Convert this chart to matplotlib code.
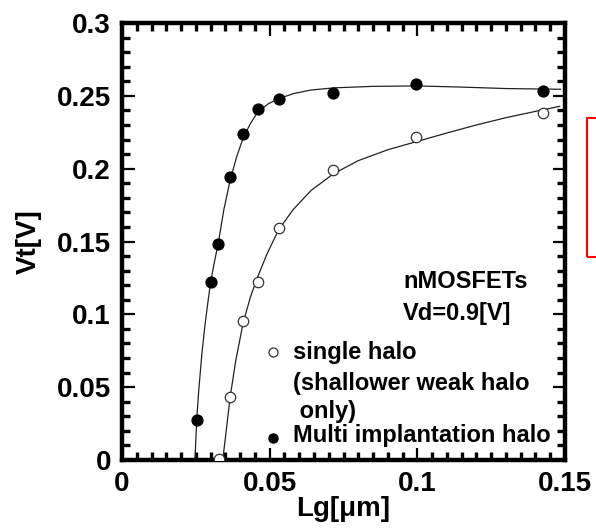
import matplotlib
matplotlib.use("Agg")
import matplotlib.pyplot as plt
from matplotlib.patches import Rectangle
from matplotlib.ticker import MultipleLocator

plt.rcParams['font.family'] = ['Liberation Sans', 'DejaVu Sans']

# measured data (Lg in um, Vt in V)
multi_lg = [0.0253, 0.0300, 0.0326, 0.0366, 0.0409, 0.0462, 0.0531, 0.0716, 0.0996, 0.1427]
multi_vt = [0.0275, 0.122, 0.148, 0.194, 0.2235, 0.241, 0.2476, 0.2517, 0.2578, 0.2535]
single_lg = [0.0328, 0.0366, 0.0409, 0.0462, 0.0531, 0.0716, 0.0996, 0.1427]
single_vt = [0.001, 0.0435, 0.0956, 0.122, 0.1594, 0.199, 0.2215, 0.2384]

# fitted curves
multi_fit_lg = [0.0247, 0.0253, 0.0260, 0.0270, 0.0280, 0.0290, 0.0300, 0.0313, 0.0326,
                0.0345, 0.0366, 0.0388, 0.0410, 0.0435, 0.0460, 0.0495, 0.0530, 0.0580,
                0.0640, 0.0720, 0.0850, 0.1000, 0.1150, 0.1300, 0.1485]
multi_fit_vt = [0.0, 0.028, 0.048, 0.072, 0.091, 0.107, 0.122, 0.136, 0.149,
                0.172, 0.192, 0.208, 0.221, 0.231, 0.239, 0.2445, 0.248, 0.2515,
                0.254, 0.2555, 0.2565, 0.2568, 0.256, 0.255, 0.2545]
single_fit_lg = [0.0341, 0.0350, 0.0366, 0.0385, 0.0410, 0.0435, 0.0460, 0.0490, 0.0530,
                 0.0580, 0.0640, 0.0716, 0.0800, 0.0900, 0.0996, 0.1100, 0.1200, 0.1300,
                 0.1427, 0.1482]
single_fit_vt = [0.0, 0.015, 0.043, 0.068, 0.094, 0.112, 0.126, 0.141, 0.158,
                 0.172, 0.185, 0.1965, 0.2055, 0.213, 0.2185, 0.2245, 0.2300, 0.2350,
                 0.2405, 0.2428]

xticks = [0, 0.05, 0.1, 0.15]
xtick_labels = ['0', '0.05', '0.1', '0.15']
yticks = [0, 0.05, 0.1, 0.15, 0.2, 0.25, 0.3]
ytick_labels = ['0', '0.05', '0.1', '0.15', '0.2', '0.25', '0.3']

W, H = 596, 529
fig = plt.figure(figsize=(W / 100, H / 100), dpi=100)
ax = fig.add_axes([122 / W, 1 - 460 / H, (565 - 122) / W, (460 - 23) / H])

ax.plot(multi_fit_lg, multi_fit_vt, color='#222222', lw=0.9)
ax.plot(single_fit_lg, single_fit_vt, color='#222222', lw=0.9)
ax.plot(multi_lg, multi_vt, 'o', color='black', ms=7.8, zorder=3)
ax.plot(single_lg, single_vt, 'o', mfc='white', mec='#333333', mew=0.9, ms=7.5, zorder=3)

ax.set_xlim(0, 0.15)
ax.set_ylim(0, 0.3)
ax.xaxis.set_minor_locator(MultipleLocator(0.005))
ax.yaxis.set_minor_locator(MultipleLocator(0.01))
ax.set_xticks(xticks)
ax.set_xticklabels(xtick_labels)
ax.set_yticks(yticks)
ax.set_yticklabels(ytick_labels)
ax.tick_params(which='both', direction='in', top=True, right=True)
ax.tick_params(which='major', length=9, width=1.6)
ax.tick_params(which='minor', length=5.5, width=2.4)
ax.tick_params(axis='y', which='major', pad=8)
ax.tick_params(axis='x', which='major', pad=8)
for lab in ax.get_xticklabels() + ax.get_yticklabels():
    lab.set_fontsize(20)
    lab.set_fontweight('bold')
for s in ax.spines.values():
    s.set_linewidth(3.2)

ax.set_xlabel('Lg[\u03bcm]', fontsize=20, fontweight='bold')
ax.set_ylabel('Vt[V]', fontsize=20, fontweight='bold')
ax.xaxis.set_label_coords(0.5, (460 - 496) / 437)
ax.yaxis.set_label_coords((42 - 122) / 443, 0.5)

fs = 17
ax.text(0.0952, 0.118, 'nMOSFETs', fontsize=fs, fontweight='bold', ha='left', va='baseline')
ax.text(0.0952, 0.0961, 'Vd=0.9[V]', fontsize=fs, fontweight='bold', ha='left', va='baseline')

# legend drawn manually
ax.plot([0.0511], [0.0740], 'o', mfc='white', mec='#333333', mew=0.9, ms=6.5,
        clip_on=False)
ax.plot([0.0511], [0.0152], 'o', color='black', ms=6.5, clip_on=False)
tx = 0.0579
ax.text(tx, 0.0693, 'single halo', fontsize=fs, fontweight='bold', va='baseline')
ax.text(tx, 0.0480, '(shallower weak halo', fontsize=fs, fontweight='bold', va='baseline')
ax.text(tx, 0.0288, ' only)', fontsize=fs, fontweight='bold', va='baseline')
ax.text(tx, 0.0124, 'Multi implantation halo', fontsize=fs, fontweight='bold', va='baseline')

# red box at the right edge
fig.patches.append(Rectangle((587 / W, 1 - 257 / H), 20 / W, (257 - 118) / H,
                             transform=fig.transFigure, fill=False,
                             edgecolor='red', lw=1.5))

fig.savefig('out.png', dpi=100)
